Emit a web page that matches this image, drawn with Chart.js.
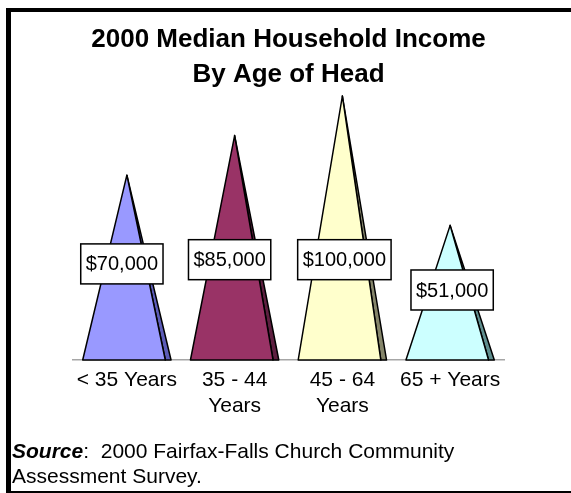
<!DOCTYPE html>
<html>
<head>
<meta charset="utf-8">
<script src="https://cdn.jsdelivr.net/npm/chart.js@4/dist/chart.umd.min.js"></script>
<style>
  html, body { margin: 0; padding: 0; background: #fff; overflow: hidden; }
  #wrap { position: relative; width: 571px; height: 493px; }
  #frame { position: absolute; left: 6px; top: 8px; width: 580px; height: 479px;
           border-top: 4px solid #000; border-left: 5px solid #000; border-bottom: 2px solid #000;
           pointer-events: none; }
  canvas { position: absolute; left: 0; top: 0; }
  #source { position: absolute; left: 12px; top: 438px; font-family: "Liberation Sans", Arial, sans-serif;
            font-size: 21px; line-height: 25px; color: #000; white-space: nowrap; }
</style>
</head>
<body>
<div id="wrap">
  <canvas id="c" width="571" height="493"></canvas>
  <div id="frame"></div>
  <div id="source"><b><i>Source</i></b>:&nbsp; 2000 Fairfax-Falls Church Community<br>Assessment Survey.</div>
</div>
<script>
// ---- data ----
const categories = ['< 35 Years', '35 - 44 Years', '45 - 64 Years', '65 + Years'];
const tickLabels = [['< 35 Years'], ['35 - 44', 'Years'], ['45 - 64', 'Years'], ['65 + Years']];
const incomeValues = [70000, 85000, 100000, 51000];
const titleLines = ['2000 Median Household Income', 'By Age of Head'];

// ---- styles ----
const frontColors = ['#9999FF', '#993366', '#FFFFCC', '#CCFFFF'];
const sideColors  = ['#5C5CB8', '#5E1F40', '#85856A', '#5F8E8E'];

const fmt = v => '$' + v.toLocaleString('en-US');

const pyramidPlugin = {
  id: 'pyramids',
  afterDatasetsDraw(chart) {
    const ctx = chart.ctx;
    const meta = chart.getDatasetMeta(0);
    const ys = chart.scales.y;
    meta.data.forEach((bar, i) => {
      const p = bar.getProps(['x', 'y', 'base', 'width'], true);
      const left = p.x - p.width / 2, right = p.x + p.width / 2;
      const sideW = p.width * 0.065;
      ctx.save();
      ctx.lineWidth = 1.5;
      ctx.strokeStyle = '#000';
      ctx.lineJoin = 'round';
      // side face
      ctx.beginPath();
      ctx.moveTo(p.x, p.y);
      ctx.lineTo(right, p.base);
      ctx.lineTo(right - sideW, p.base);
      ctx.closePath();
      ctx.fillStyle = sideColors[i];
      ctx.fill();
      ctx.stroke();
      // front face
      ctx.beginPath();
      ctx.moveTo(p.x, p.y);
      ctx.lineTo(right - sideW, p.base);
      ctx.lineTo(left, p.base);
      ctx.closePath();
      ctx.fillStyle = frontColors[i];
      ctx.fill();
      ctx.stroke();
      ctx.restore();
    });
    // value labels
    meta.data.forEach((bar, i) => {
      const p = bar.getProps(['x'], true);
      const v = incomeValues[i];
      const cy = ys.getPixelForValue(Math.min(38000, v * 0.52));
      const cx = p.x - (i < 2 ? 5 : -2);
      ctx.save();
      ctx.font = '20px "Liberation Sans", Arial, sans-serif';
      const txt = fmt(v);
      const tw = ctx.measureText(txt).width;
      const w = tw + 10, h = 40;
      ctx.fillStyle = '#fff';
      ctx.strokeStyle = '#000';
      ctx.lineWidth = 1.5;
      ctx.fillRect(cx - w / 2, cy - h / 2, w, h);
      ctx.strokeRect(cx - w / 2, cy - h / 2, w, h);
      ctx.fillStyle = '#000';
      ctx.textAlign = 'center';
      ctx.textBaseline = 'middle';
      ctx.fillText(txt, cx, cy + 1);
      ctx.restore();
    });
  }
};

new Chart(document.getElementById('c'), {
  type: 'bar',
  data: {
    labels: tickLabels,
    datasets: [{
      label: 'Median Household Income',
      data: incomeValues,
      backgroundColor: 'rgba(0,0,0,0)',
      borderWidth: 0,
      categoryPercentage: 1.0,
      barPercentage: 0.82
    }]
  },
  options: {
    responsive: false,
    animation: false,
    events: [],
    layout: { padding: { left: 73, right: 67, top: 22, bottom: 75 } },
    plugins: {
      legend: { display: false },
      tooltip: { enabled: false },
      title: {
        display: true,
        text: titleLines,
        color: '#000',
        font: { family: '"Liberation Sans", Arial, sans-serif', size: 26, weight: 'bold', lineHeight: 35 / 26 },
        padding: { top: 0, bottom: 4 }
      }
    },
    scales: {
      x: {
        grid: { display: false },
        border: { display: true, color: '#A6A6A6', width: 1.5 },
        ticks: {
          color: '#000',
          padding: -1,
          maxRotation: 0,
          autoSkip: false,
          font: { family: '"Liberation Sans", Arial, sans-serif', size: 21, lineHeight: 26 / 21 }
        }
      },
      y: { display: false, min: 0, max: 100000 }
    }
  },
  plugins: [pyramidPlugin]
});
</script>
</body>
</html>
